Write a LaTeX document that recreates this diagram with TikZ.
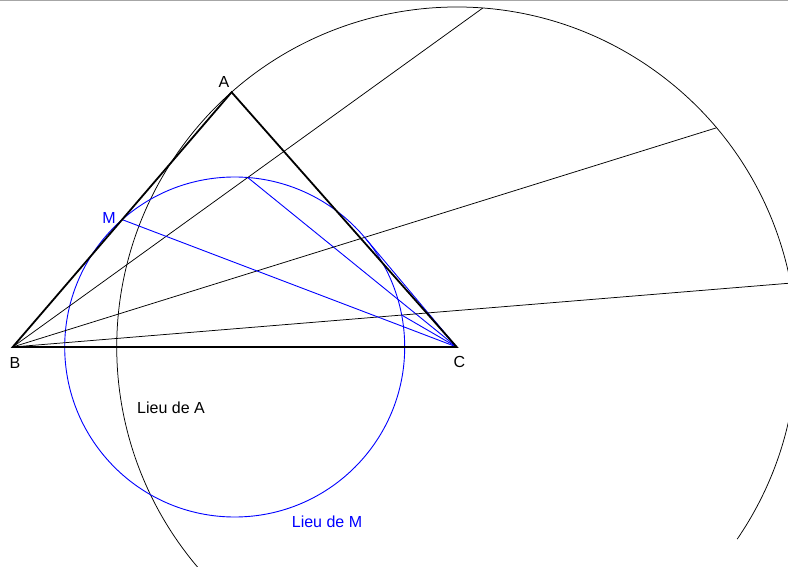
\documentclass[tikz,border=0pt]{standalone}
\usepackage{fontspec}
\setmainfont{Liberation Sans}
\usetikzlibrary{calc}
\tikzset{
  lieuside/.style={line width=1.8pt,line join=miter},
  lieuthin/.style={line width=0.75pt},
  lieublue/.style={blue,line width=0.9pt},
  lieulabel/.style={font=\fontsize{16}{19}\selectfont,inner sep=0pt},
}

\begin{document}
\begin{tikzpicture}[x=1pt,y=1pt]
\useasboundingbox (0,0) rectangle (788,566);
\begin{scope}
\clip (0,0) rectangle (788,566);
% points of the figure
\coordinate (B) at (12.7,219);
\coordinate (C) at (456.7,219);
\coordinate (O) at ($(B)!0.5!(C)$);
\coordinate (A) at ($(C)+(131.46:340)$);
\coordinate (P1) at ($(C)+(85.6:340)$);
\coordinate (P2) at ($(C)+(40.15:340)$);
\coordinate (P3) at ($(C)+(10.83:340)$);
\coordinate (M) at ($(B)!0.5!(A)$);
\coordinate (M1) at ($(B)!0.5!(P1)$);
\coordinate (M2) at ($(B)!0.5!(P2)$);
\coordinate (M3) at ($(B)!0.5!(P3)$);
% lieu de A
\draw[lieuthin] ($(C)+(-34.4:340)$) arc[start angle=-34.4,end angle=250,radius=340];
% lieu de M
\draw[lieublue] (O) circle[radius=170];
\foreach \p/\m in {P1/M1,P2/M2,P3/M3}{
  \draw[lieuthin] (B) -- (\p);
  \draw[lieublue] (\m) -- (C);
}
\draw[lieublue] (M) -- (C);
\draw[lieuside] (A) -- (B) -- (C) -- cycle;
\end{scope}
\draw[gray!70,line width=1.5pt] (0,565.25) -- (788,565.25);
% labels
\node[lieulabel] (labA) at ($(A)+(-7.7,10.7)$) {A};
\node[lieulabel] (labB) at ($(B)+(2.3,-15.5)$) {B};
\node[lieulabel] (labC) at ($(C)+(2.8,-15)$) {C};
\node[lieulabel,blue] (labM) at ($(M)+(-13.2,1.5)$) {M};
\node[lieulabel] (lieuA) at (171,158) {Lieu de A};
\node[lieulabel,blue] (lieuM) at (327,44.5) {Lieu de M};
\end{tikzpicture}
\end{document}
